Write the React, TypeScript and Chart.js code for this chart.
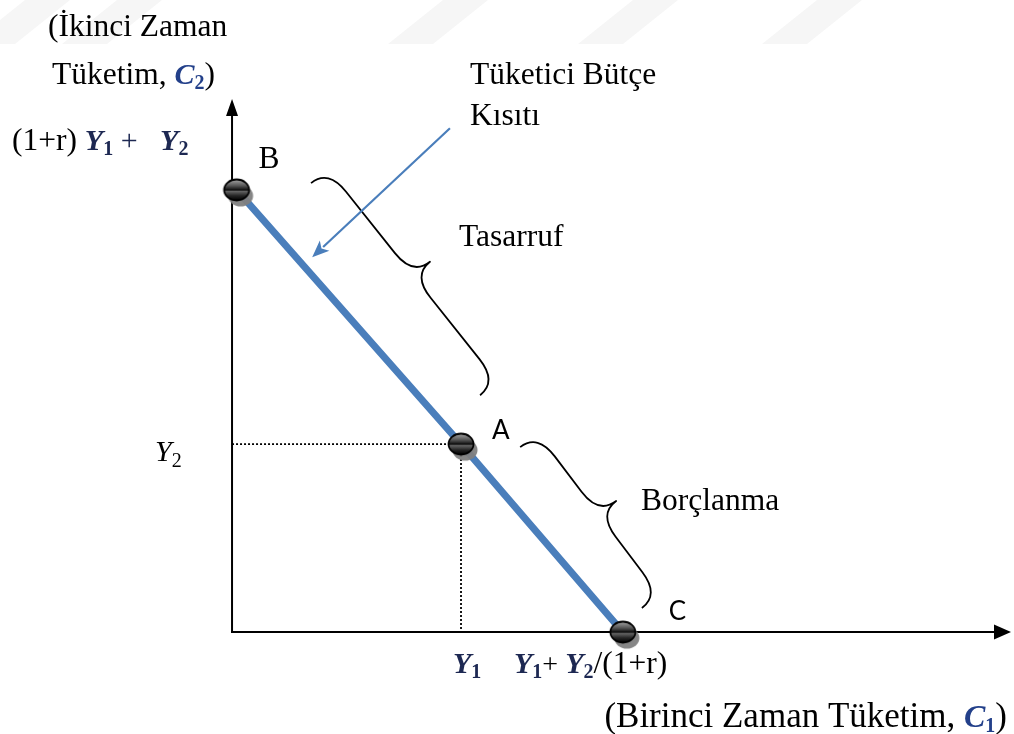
import React, { useEffect, useRef } from "react";
import { Chart, registerables } from "chart.js";
Chart.register(...registerables);

// ---- data ----
const pointNames = ["B", "A", "C"];
const budgetC1 = [1.2, 60, 102.4];
const budgetC2 = [117.6, 50, 0];
const guideC1 = [0, 60, 60];
const guideC2 = [50, 50, 0];
const xLimits = [-60.8, 204.9];
const yLimits = [-27.1, 168.1];
// annotation anchors in data units: [x1, y1, x2, y2]
const savingsBrace = [20.7, 119.4, 65.0, 63.0];
const borrowBrace = [75.5, 49.2, 107.4, 6.4];
const constraintArrow = [57.1, 134.0, 21.0, 99.7];

const SERIF = "'Liberation Serif', 'Times New Roman', serif";
const SANS = "Lato, 'Liberation Sans', sans-serif";
const NAVY = "#1d2852";
const MATH_BLUE = "#23408a";

type Run = { t: string; f: string; c?: string; dy?: number; dx?: number };

function drawRuns(ctx: CanvasRenderingContext2D, x: number, y: number, runs: Run[], align: "left" | "right" = "left") {
  let total = 0;
  for (const r of runs) {
    ctx.font = r.f;
    total += ctx.measureText(r.t).width + (r.dx || 0);
  }
  let cx = align === "right" ? x - total : x;
  for (const r of runs) {
    ctx.font = r.f;
    ctx.fillStyle = r.c || "#000";
    cx += r.dx || 0;
    ctx.fillText(r.t, cx, y + (r.dy || 0));
    cx += ctx.measureText(r.t).width;
  }
}

function drawBrace(ctx: CanvasRenderingContext2D, x1: number, y1: number, x2: number, y2: number, d: number) {
  const dx = x2 - x1, dy = y2 - y1;
  const L = Math.hypot(dx, dy);
  const ux = dx / L, uy = dy / L;
  const nx = uy, ny = -ux;
  const P = (s: number, o: number): [number, number] => [x1 + ux * s + nx * o, y1 + uy * s + ny * o];
  const a = Math.min(d * 1.3, L * 0.14);
  ctx.beginPath();
  ctx.moveTo(...P(0, 0));
  ctx.quadraticCurveTo(...P(0, d), ...P(a, d));
  ctx.lineTo(...P(L / 2 - a, d));
  ctx.quadraticCurveTo(...P(L / 2, d), ...P(L / 2, 2 * d));
  ctx.quadraticCurveTo(...P(L / 2, d), ...P(L / 2 + a, d));
  ctx.lineTo(...P(L - a, d));
  ctx.quadraticCurveTo(...P(L, d), ...P(L, 0));
  ctx.stroke();
}

function makeMarker(): HTMLCanvasElement {
  const c = document.createElement("canvas");
  c.width = 48;
  c.height = 48;
  const g = c.getContext("2d")!;
  const cx = 24, cy = 24, rx = 12.5, ry = 10.5;
  g.fillStyle = "rgba(128,128,128,0.95)";
  g.beginPath();
  g.ellipse(cx + 4, cy + 6, rx, ry, 0, 0, Math.PI * 2);
  g.fill();
  const grad = g.createLinearGradient(0, cy - ry, 0, cy + ry);
  grad.addColorStop(0, "#a8a8a8");
  grad.addColorStop(0.3, "#555");
  grad.addColorStop(0.47, "#1a1a1a");
  grad.addColorStop(0.5, "#000");
  grad.addColorStop(0.56, "#656565");
  grad.addColorStop(0.78, "#242424");
  grad.addColorStop(1, "#000");
  g.fillStyle = grad;
  g.beginPath();
  g.ellipse(cx, cy, rx, ry, 0, 0, Math.PI * 2);
  g.fill();
  g.strokeStyle = "#000";
  g.lineWidth = 1.8;
  g.stroke();
  return c;
}

const diagramPlugin = {
  id: "diagram",
  beforeDatasetsDraw(chart: any) {
    const ctx: CanvasRenderingContext2D = chart.ctx;
    const X = (v: number) => chart.scales.x.getPixelForValue(v);
    const Y = (v: number) => chart.scales.y.getPixelForValue(v);
    ctx.save();
    // faint watermark bands
    ctx.fillStyle = "#f6f6f6";
    for (const b of [-30, 62, 388, 578, 762]) {
      ctx.beginPath();
      ctx.moveTo(b, 44);
      ctx.lineTo(b + 45, 44);
      ctx.lineTo(b + 100, 0);
      ctx.lineTo(b + 55, 0);
      ctx.closePath();
      ctx.fill();
    }
    const ox = X(0), oy = Y(0);
    ctx.strokeStyle = "#000";
    ctx.fillStyle = "#000";
    ctx.lineWidth = 2;
    ctx.beginPath();
    ctx.moveTo(ox, oy + 1);
    ctx.lineTo(ox, 112);
    ctx.stroke();
    ctx.beginPath();
    ctx.moveTo(ox, 99);
    ctx.lineTo(ox - 6, 116);
    ctx.lineTo(ox + 6, 116);
    ctx.closePath();
    ctx.fill();
    ctx.beginPath();
    ctx.moveTo(ox - 1, oy);
    ctx.lineTo(996, oy);
    ctx.stroke();
    ctx.beginPath();
    ctx.moveTo(1011, oy);
    ctx.lineTo(994, oy - 7.5);
    ctx.lineTo(994, oy + 7.5);
    ctx.closePath();
    ctx.fill();
    ctx.restore();
  },
  afterDatasetsDraw(chart: any) {
    const ctx: CanvasRenderingContext2D = chart.ctx;
    const X = (v: number) => chart.scales.x.getPixelForValue(v);
    const Y = (v: number) => chart.scales.y.getPixelForValue(v);
    ctx.save();
    // braces
    ctx.strokeStyle = "#000";
    ctx.lineWidth = 1.8;
    ctx.lineJoin = "round";
    drawBrace(ctx, X(savingsBrace[0]), Y(savingsBrace[1]), X(savingsBrace[2]), Y(savingsBrace[3]), 22);
    drawBrace(ctx, X(borrowBrace[0]), Y(borrowBrace[1]), X(borrowBrace[2]), Y(borrowBrace[3]), 22);
    // constraint arrow
    const ax1 = X(constraintArrow[0]), ay1 = Y(constraintArrow[1]);
    const ax2 = X(constraintArrow[2]), ay2 = Y(constraintArrow[3]);
    const ang = Math.atan2(ay2 - ay1, ax2 - ax1);
    const hl = 17, hw = 7;
    ctx.strokeStyle = "#4a7ebb";
    ctx.fillStyle = "#4a7ebb";
    ctx.lineWidth = 2.2;
    ctx.beginPath();
    ctx.moveTo(ax1, ay1);
    ctx.lineTo(ax2 - Math.cos(ang) * (hl - 2), ay2 - Math.sin(ang) * (hl - 2));
    ctx.stroke();
    ctx.beginPath();
    ctx.moveTo(ax2, ay2);
    ctx.lineTo(ax2 - Math.cos(ang) * hl - Math.sin(ang) * hw, ay2 - Math.sin(ang) * hl + Math.cos(ang) * hw);
    ctx.lineTo(ax2 - Math.cos(ang) * hl * 0.75, ay2 - Math.sin(ang) * hl * 0.75);
    ctx.lineTo(ax2 - Math.cos(ang) * hl + Math.sin(ang) * hw, ay2 - Math.sin(ang) * hl - Math.cos(ang) * hw);
    ctx.closePath();
    ctx.fill();

    // texts
    ctx.textBaseline = "alphabetic";
    const f31 = `31.5px ${SERIF}`;
    const mY = `italic bold 30px ${SERIF}`;
    const mSub = `bold 20px ${SERIF}`;
    drawRuns(ctx, 48, 36, [{ t: "(İkinci Zaman", f: f31 }]);
    drawRuns(ctx, 52, 84, [
      { t: "Tüketim, ", f: f31 },
      { t: "C", f: mY, c: MATH_BLUE },
      { t: "2", f: mSub, c: MATH_BLUE, dy: 5 },
      { t: ")", f: f31 },
    ]);
    drawRuns(ctx, 12, Y(budgetC2[0]) - 40, [
      { t: "(1+r) ", f: f31 },
      { t: "Y", f: mY, c: NAVY },
      { t: "1", f: mSub, c: NAVY, dy: 5 },
      { t: " +", f: `30px ${SERIF}`, c: NAVY },
      { t: "   Y", f: mY, c: NAVY },
      { t: "2", f: mSub, c: NAVY, dy: 5 },
    ]);
    ctx.font = f31;
    ctx.fillStyle = "#000";
    ctx.fillText(pointNames[0], X(budgetC1[0]) + 22, Y(budgetC2[0]) - 22);
    drawRuns(ctx, 470, 84, [{ t: "Tüketici Bütçe", f: f31 }]);
    drawRuns(ctx, 470, 125, [{ t: "Kısıtı", f: f31 }]);
    drawRuns(ctx, 459, 246, [{ t: "Tasarruf", f: f31 }]);
    drawRuns(ctx, 641, 510, [{ t: "Borçlanma", f: f31 }]);
    ctx.font = `26px ${SANS}`;
    ctx.fillStyle = "#000";
    ctx.fillText(pointNames[1], X(budgetC1[1]) + 31, Y(budgetC2[1]) - 5);
    ctx.fillText(pointNames[2], X(budgetC1[2]) + 46, Y(budgetC2[2]) - 12);
    // y tick label Y2
    drawRuns(ctx, 155, Y(guideC2[0]) + 17, [
      { t: "Y", f: `italic 30px ${SERIF}` },
      { t: "2", f: `20px ${SERIF}`, dy: 6 },
    ]);
    // x tick labels
    drawRuns(ctx, X(guideC1[1]) - 8, Y(0) + 41, [
      { t: "Y", f: mY, c: NAVY },
      { t: "1", f: mSub, c: NAVY, dy: 5 },
    ]);
    drawRuns(ctx, X(guideC1[1]) + 53, Y(0) + 41, [
      { t: "Y", f: mY, c: NAVY },
      { t: "1", f: mSub, c: NAVY, dy: 5 },
      { t: "+ ", f: `28px ${SERIF}` },
      { t: "Y", f: mY, c: NAVY },
      { t: "2", f: mSub, c: NAVY, dy: 5 },
      { t: "/(1+r)", f: f31 },
    ]);
    drawRuns(
      ctx,
      1007,
      727,
      [
        { t: "(Birinci Zaman Tüketim, ", f: `35px ${SERIF}` },
        { t: "C", f: `italic bold 32px ${SERIF}`, c: MATH_BLUE },
        { t: "1", f: mSub, c: MATH_BLUE, dy: 5 },
        { t: ")", f: `35px ${SERIF}` },
      ],
      "right"
    );
    ctx.restore();
  },
};

export default function App() {
  const ref = useRef<HTMLCanvasElement | null>(null);
  useEffect(() => {
    if (!ref.current) return;
    const marker = makeMarker();
    const chart = new Chart(ref.current, {
      type: "scatter",
      data: {
        datasets: [
          {
            label: "budget",
            data: budgetC1.map((x, i) => ({ x, y: budgetC2[i] })),
            showLine: true,
            borderColor: "#4a7ebb",
            borderWidth: 7,
            pointStyle: marker as any,
            pointRadius: 10,
            pointHoverRadius: 10,
            clip: false as any,
            order: 0,
          },
          {
            label: "guides",
            data: guideC1.map((x, i) => ({ x, y: guideC2[i] })),
            showLine: true,
            borderColor: "#000",
            borderWidth: 1.8,
            borderDash: [2, 2],
            pointRadius: 0,
            clip: false as any,
            order: 1,
          },
        ],
      },
      options: {
        responsive: false,
        maintainAspectRatio: false,
        animation: false,
        events: [],
        layout: { padding: 0, autoPadding: false },
        plugins: { legend: { display: false }, tooltip: { enabled: false }, title: { display: false } },
        scales: {
          x: { type: "linear", display: false, min: xLimits[0], max: xLimits[1] },
          y: { type: "linear", display: false, min: yLimits[0], max: yLimits[1] },
        },
      },
      plugins: [diagramPlugin],
    });
    return () => chart.destroy();
  }, []);
  return (
    <div style={{ position: "fixed", left: 0, top: 0, width: 1014, height: 734, background: "#fff" }}>
      <canvas ref={ref} width={1014} height={734} style={{ display: "block" }} />
    </div>
  );
}
